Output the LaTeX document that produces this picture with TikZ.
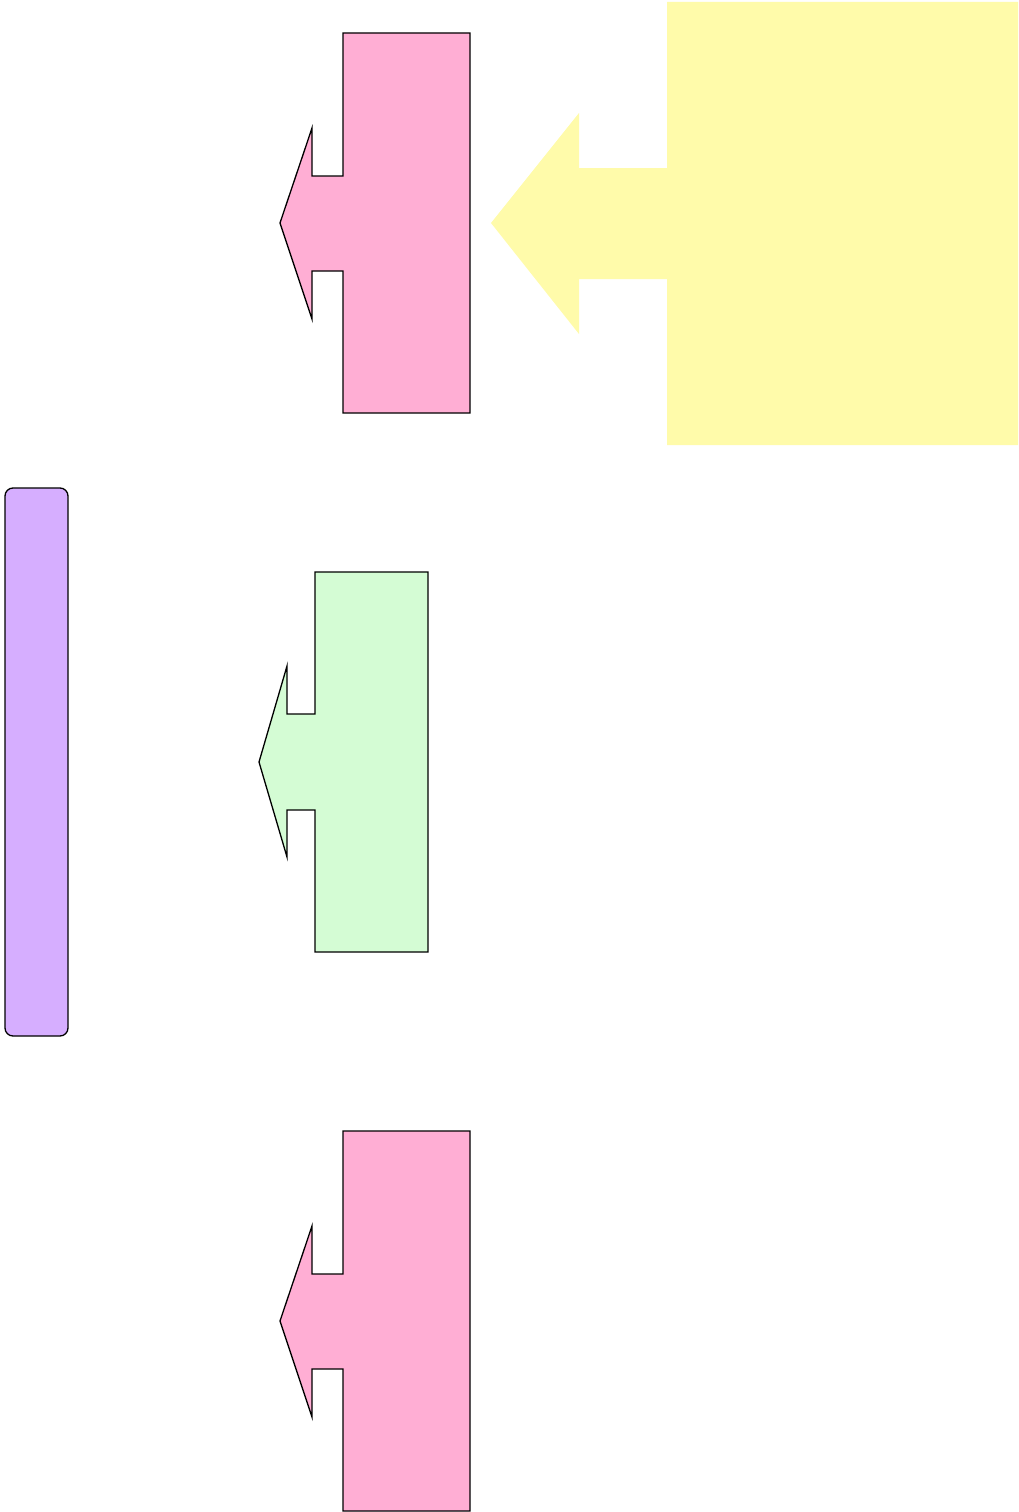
\documentclass[tikz,border=0pt]{standalone}
\usepackage{tikz}
\definecolor{calloutpink}{RGB}{255,174,212}
\definecolor{calloutyellow}{RGB}{255,251,170}
\definecolor{calloutgreen}{RGB}{212,252,212}
\definecolor{barpurple}{RGB}{214,174,255}
\tikzset{
  outline/.style={draw=black, line width=1.3pt, line join=miter},
  pinkcallout/.style={outline, fill=calloutpink},
  greencallout/.style={outline, fill=calloutgreen},
  yellowcallout/.style={fill=calloutyellow, draw=none},
  sidebar/.style={outline, fill=barpurple, rounded corners=8pt},
}
\begin{document}
\begin{tikzpicture}[x=1pt,y=-1pt]
\useasboundingbox (0,0) rectangle (1018,1512);
% top pink box with its arrow to the left
\draw[pinkcallout] (343,33) -- (470,33) -- (470,413) -- (343,413) -- (343,271)
  -- (312,271) -- (312,319) -- (280,223) -- (312,128) -- (312,176) -- (343,176) -- cycle;
% big yellow box, no border
\fill[yellowcallout] (667,2) -- (1018,2) -- (1018,445) -- (667,445) -- (667,279)
  -- (579,279) -- (579,334) -- (491,223) -- (579,113) -- (579,168) -- (667,168) -- cycle;
\draw[sidebar] (5,488) rectangle (68,1036);
\draw[greencallout] (315,572) -- (428,572) -- (428,952) -- (315,952) -- (315,810)
  -- (287,810) -- (287,857) -- (259,762) -- (287,666) -- (287,714) -- (315,714) -- cycle;
\draw[pinkcallout] (343,1131) -- (470,1131) -- (470,1511) -- (343,1511) -- (343,1369)
  -- (312,1369) -- (312,1417) -- (280,1321) -- (312,1226) -- (312,1274) -- (343,1274) -- cycle;
\end{tikzpicture}
\end{document}
